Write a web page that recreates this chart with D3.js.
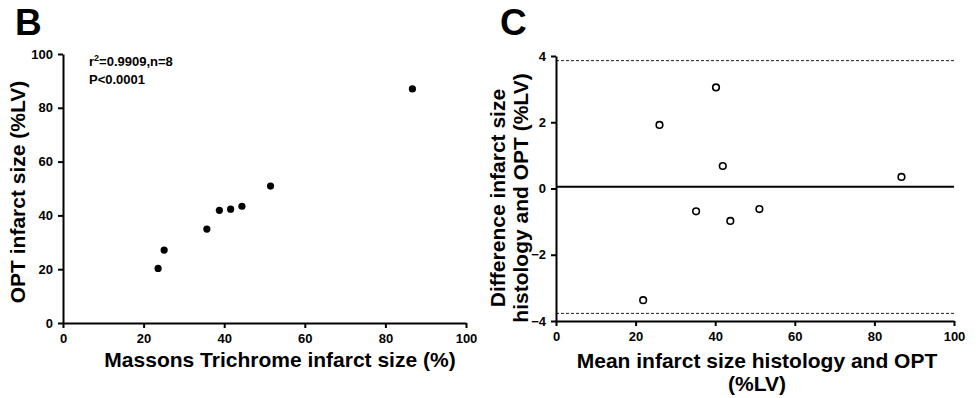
<!DOCTYPE html>
<html>
<head>
<meta charset="utf-8">
<script src="https://cdn.jsdelivr.net/npm/d3@7"></script>
<style>
  body { margin: 0; background: #fff; }
  svg { display: block; font-family: "Liberation Sans", Arial, sans-serif; font-weight: bold; }
</style>
</head>
<body>
<svg id="chart" width="978" height="398"></svg>
<script>
// panel B: correlation
const histology = [23.6, 25.1, 35.7, 38.8, 41.6, 44.4, 51.5, 86.7];
const opt = [20.3, 27.1, 34.9, 41.9, 42.3, 43.4, 50.9, 87.0];
const ticksB = [0, 20, 40, 60, 80, 100];

// panel C: Bland-Altman
const meanSize = [21.9, 26.0, 35.2, 40.2, 41.9, 43.8, 51.1, 86.8];
const difference = [-3.37, 1.92, -0.69, 3.05, 0.68, -0.98, -0.62, 0.35];
const bias = [0.05];
const limits = [3.86, -3.77];
const ticksCx = [0, 20, 40, 60, 80, 100];
const ticksCy = [-4, -2, 0, 2, 4];

const svg = d3.select('#chart');

function styleAxis(g) {
  g.select('.domain').attr('stroke', '#000').attr('stroke-width', 2);
  g.selectAll('.tick line').attr('stroke', '#000').attr('stroke-width', 2);
  g.selectAll('.tick text')
    .attr('fill', '#000')
    .style('font-size', '13px')
    .style('font-weight', 'bold')
    .style('font-family', '"Liberation Sans", Arial, sans-serif');
}

// ---- panel B ----
const xB = d3.scaleLinear().domain([0, 100]).range([63, 466]);
const yB = d3.scaleLinear().domain([0, 100]).range([323, 54]);

svg.append('g')
  .attr('transform', `translate(0, ${yB(0)})`)
  .call(d3.axisBottom(xB).tickValues(ticksB).tickSize(5).tickSizeOuter(0).tickPadding(6))
  .call(styleAxis);

svg.append('g')
  .attr('transform', `translate(${xB(0)}, 0)`)
  .call(d3.axisLeft(yB).tickValues(ticksB).tickSize(5).tickSizeOuter(0).tickPadding(5))
  .call(styleAxis);

svg.append('g')
  .selectAll('circle')
  .data(histology)
  .join('circle')
  .attr('cx', d => xB(d))
  .attr('cy', (d, i) => yB(opt[i]))
  .attr('r', 3.6)
  .attr('fill', '#000');

svg.append('text')
  .attr('x', 15).attr('y', 35)
  .style('font-size', '37px')
  .text('B');

const ann = svg.append('text')
  .attr('x', 89).attr('y', 66)
  .style('font-size', '13px');
ann.append('tspan').text('r');
ann.append('tspan').attr('dy', -5).style('font-size', '9px').text('2');
ann.append('tspan').attr('dy', 5).text('=0.9909,n=8');

svg.append('text')
  .attr('x', 89).attr('y', 84)
  .style('font-size', '13px')
  .text('P<0.0001');

svg.append('text')
  .attr('x', 280).attr('y', 367)
  .attr('text-anchor', 'middle')
  .style('font-size', '21px')
  .text('Massons Trichrome infarct size (%)');

svg.append('text')
  .attr('transform', 'translate(25, 192) rotate(-90)')
  .attr('text-anchor', 'middle')
  .style('font-size', '21px')
  .text('OPT infarct size (%LV)');

// ---- panel C ----
const xC = d3.scaleLinear().domain([0, 100]).range([556, 954]);
const yC = d3.scaleLinear().domain([-4, 4]).range([321, 56]);

svg.append('g')
  .selectAll('line.limit')
  .data(limits)
  .join('line')
  .attr('class', 'limit')
  .attr('x1', xC(0)).attr('x2', xC(100))
  .attr('y1', d => yC(d)).attr('y2', d => yC(d))
  .attr('stroke', '#222')
  .attr('stroke-width', 1)
  .attr('stroke-dasharray', '3,2');

svg.append('g')
  .selectAll('line.bias')
  .data(bias)
  .join('line')
  .attr('class', 'bias')
  .attr('x1', xC(0)).attr('x2', xC(100))
  .attr('y1', d => yC(d)).attr('y2', d => yC(d))
  .attr('stroke', '#000')
  .attr('stroke-width', 2);

svg.append('g')
  .attr('transform', `translate(0, ${yC(-4)})`)
  .call(d3.axisBottom(xC).tickValues(ticksCx).tickSize(5).tickSizeOuter(0).tickPadding(6))
  .call(styleAxis);

svg.append('g')
  .attr('transform', `translate(${xC(0)}, 0)`)
  .call(d3.axisLeft(yC).tickValues(ticksCy).tickSize(5).tickSizeOuter(0).tickPadding(5))
  .call(styleAxis);

svg.append('g')
  .selectAll('circle')
  .data(meanSize)
  .join('circle')
  .attr('cx', d => xC(d))
  .attr('cy', (d, i) => yC(difference[i]))
  .attr('r', 3.3)
  .attr('fill', '#fff')
  .attr('stroke', '#000')
  .attr('stroke-width', 1.6);

svg.append('text')
  .attr('x', 500).attr('y', 35)
  .style('font-size', '37px')
  .text('C');

const yTitleC = svg.append('text')
  .attr('transform', 'translate(505, 198) rotate(-90)')
  .attr('text-anchor', 'middle')
  .style('font-size', '21px');
yTitleC.append('tspan').attr('x', 0).text('Difference infarct size');
yTitleC.append('tspan').attr('x', 0).attr('dy', 23).text('histology and OPT (%LV)');

const xTitleC = svg.append('text')
  .attr('transform', 'translate(757, 368)')
  .attr('text-anchor', 'middle')
  .style('font-size', '21px');
xTitleC.append('tspan').attr('x', 0).text('Mean infarct size histology and OPT');
xTitleC.append('tspan').attr('x', 0).attr('dy', 23).text('(%LV)');
</script>
</body>
</html>
